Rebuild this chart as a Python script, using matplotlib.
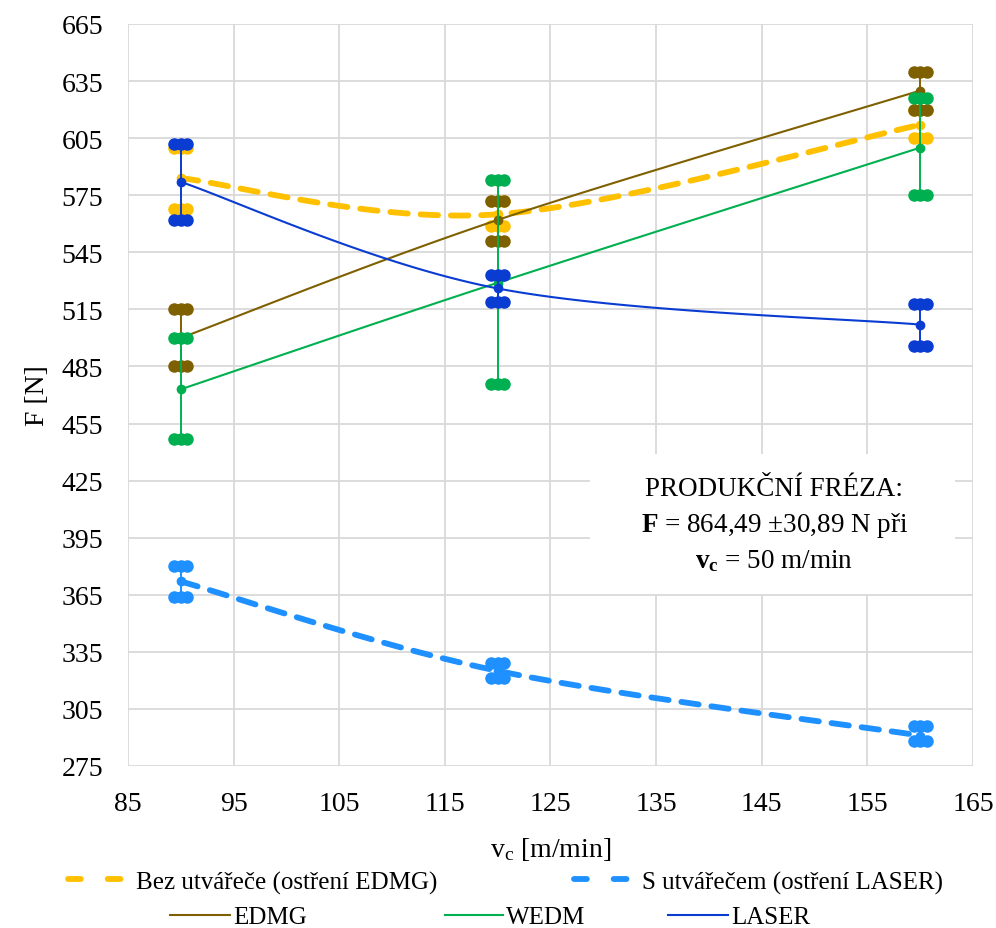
import numpy as np
import matplotlib
matplotlib.use("Agg")
import matplotlib.pyplot as plt
from matplotlib.lines import Line2D
from matplotlib.patches import Rectangle

plt.rcParams["font.family"] = ["Liberation Serif", "DejaVu Serif"]
plt.rcParams["mathtext.fontset"] = "custom"
plt.rcParams["mathtext.rm"] = "Liberation Serif"
plt.rcParams["mathtext.it"] = "Liberation Serif:italic"
plt.rcParams["mathtext.bf"] = "Liberation Serif:bold"

# cutting speeds
vc = [90, 120, 160]

# mean force and min/max range for each configuration
bez_mean = [584, 565, 612]
bez_lo = [568, 559, 605]
bez_hi = [600, 572, 620]

s_mean = [372, 325, 291]
s_lo = [364, 321, 288]
s_hi = [380, 329, 296]

edmg_mean = [500, 562, 630]
edmg_lo = [485, 551, 620]
edmg_hi = [515, 572, 640]

wedm_mean = [473, 529, 600]
wedm_lo = [447, 476, 575]
wedm_hi = [500, 583, 626]

laser_mean = [582, 526, 507]
laser_lo = [562, 519, 496]
laser_hi = [602, 533, 518]

x_ticks = list(range(85, 166, 10))
y_ticks = list(range(275, 666, 30))


def smooth(xs, ys, n=60):
    """Bezier smoothing through the points (Catmull-Rom style control points)."""
    P = np.column_stack([xs, ys]).astype(float)
    Pext = np.vstack([P[0], P, P[-1]])
    out = []
    t = np.linspace(0, 1, n)[:, None]
    for i in range(len(P) - 1):
        p0, p1 = Pext[i + 1], Pext[i + 2]
        c1 = p0 + (Pext[i + 2] - Pext[i]) / 6.0
        c2 = p1 - (Pext[i + 3] - Pext[i + 1]) / 6.0
        seg = ((1 - t) ** 3) * p0 + 3 * ((1 - t) ** 2) * t * c1 + 3 * (1 - t) * t ** 2 * c2 + t ** 3 * p1
        out.append(seg if i == 0 else seg[1:])
    out = np.vstack(out)
    return out[:, 0], out[:, 1]


fig = plt.figure(figsize=(9.96, 9.29), dpi=100)
ax = fig.add_axes([0.1285, 0.1744, 0.8484, 0.7987])

C_BEZ = "#FFC000"
C_S = "#1E90FF"
C_EDMG = "#7F6000"
C_WEDM = "#00B050"
C_LASER = "#0A3CD2"
DASH = (3.0, 2.2)
LEG_DASH = (2.2, 4.6)

series = [
    (bez_mean, bez_lo, bez_hi, C_BEZ, "dash", 3),
    (s_mean, s_lo, s_hi, C_S, "dash", 3),
    (edmg_mean, edmg_lo, edmg_hi, C_EDMG, "solid", 4),
    (wedm_mean, wedm_lo, wedm_hi, C_WEDM, "solid", 5),
    (laser_mean, laser_lo, laser_hi, C_LASER, "solid", 6),
]

cap_dx = 0.6
for mean, lo, hi, col, style, z in series:
    xs, ys = smooth(vc, mean)
    if style == "dash":
        ax.plot(xs, ys, color=col, lw=4.2, dashes=DASH, dash_capstyle="round", zorder=z)
    else:
        ax.plot(xs, ys, color=col, lw=1.5, zorder=z)
    for x, m, l, h in zip(vc, mean, lo, hi):
        ax.plot([x, x], [l, h], color=col, lw=1.4, zorder=z)
        for yv in (l, h):
            ax.plot([x - cap_dx, x, x + cap_dx], [yv] * 3, ls="none", marker="o",
                    ms=8, color=col, mec=col, zorder=z + 0.5)
        ax.plot([x], [m], marker="o", ms=6, color=col, ls="none", zorder=z + 0.5)

ax.set_xlim(85, 165)
ax.set_ylim(275, 665)
ax.set_xticks(x_ticks)
ax.set_yticks(y_ticks)
ax.tick_params(labelsize=20, length=0)
ax.tick_params(axis="x", pad=18)
ax.tick_params(axis="y", pad=18)
for s in ax.spines.values():
    s.set_visible(False)
ax.grid(True, color="#D9D9D9", lw=1.3)
ax.set_axisbelow(True)

ax.set_xlabel("v$_\\mathrm{c}$ [m/min]", fontsize=20, labelpad=14)
ax.set_ylabel("F [N]", fontsize=20, labelpad=8)

# white panel behind the note
ax.add_patch(Rectangle((0.547, 0.232), 0.432, 0.189, transform=ax.transAxes,
                       facecolor="white", edgecolor="none", zorder=1.5))
ax.text(146.2, 402, "PRODUKČNÍ FRÉZA:\n$\\mathbf{F}$ = 864,49 ±30,89 N při\n"
        "$\\mathbf{v}_\\mathbf{c}$ = 50 m/min",
        ha="center", va="center", fontsize=19.5, linespacing=1.42, zorder=10)

# legend entries, placed individually
entries = [
    (Line2D([], [], color=C_BEZ, lw=4.2, dashes=LEG_DASH, dash_capstyle="round"),
     "Bez utvářeče (ostření EDMG)", 68, 883, 2.2, 0.5),
    (Line2D([], [], color=C_S, lw=4.2, dashes=LEG_DASH, dash_capstyle="round"),
     "S utvářečem (ostření LASER)", 574, 883, 2.2, 0.5),
    (Line2D([], [], color=C_EDMG, lw=1.5), "EDMG", 170, 918, 2.4, 0.12),
    (Line2D([], [], color=C_WEDM, lw=1.5), "WEDM", 445, 918, 2.3, 0.12),
    (Line2D([], [], color=C_LASER, lw=1.5), "LASER", 668, 918, 2.4, 0.12),
]
W, H = 996, 929
for handle, label, px, py, hl, tp in entries:
    fig.legend([handle], [label], loc="center left", bbox_to_anchor=(px / W, 1 - py / H),
               frameon=False, fontsize=18, handlelength=hl, handletextpad=tp,
               borderpad=0, borderaxespad=0)

fig.savefig("out.png", dpi=100)
